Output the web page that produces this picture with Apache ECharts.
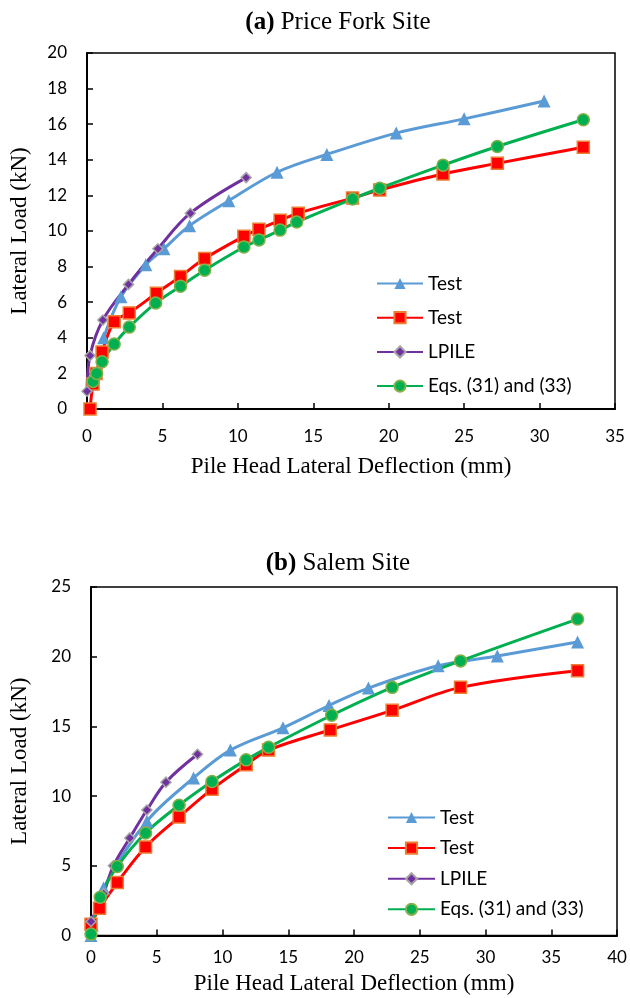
<!DOCTYPE html>
<html><head><meta charset="utf-8">
<script src="https://cdn.jsdelivr.net/npm/echarts@6/dist/echarts.min.js"></script>
<style>html,body{margin:0;padding:0;background:#fff}#c{width:630px;height:998px}</style>
</head><body><div id="c"></div>
<script>
// ---- (a) Price Fork Site ----
const aTest1X = [1.1, 2.25, 3.9, 5.1, 6.8, 9.4, 12.6, 15.9, 20.5, 25.0, 30.3];
const aTest1Y = [4.0, 6.3, 8.1, 9.0, 10.3, 11.7, 13.3, 14.3, 15.5, 16.3, 17.3];
const aTest2X = [0.2, 0.4, 0.6, 1.0, 1.8, 2.8, 4.6, 6.2, 7.8, 10.4, 11.4, 12.8, 14.0, 17.6, 19.4, 23.6, 27.2, 32.9];
const aTest2Y = [0, 1.4, 2.0, 3.2, 4.9, 5.4, 6.5, 7.45, 8.45, 9.7, 10.1, 10.6, 11.0, 11.85, 12.3, 13.2, 13.8, 14.7];
const aLpileX = [0, 0.2, 1.05, 2.75, 4.7, 6.85, 10.55];
const aLpileY = [1, 3, 5, 7, 9, 11, 13];
const aEqsX = [0.4, 0.64, 1.0, 1.8, 2.8, 4.55, 6.2, 7.8, 10.4, 11.4, 12.8, 13.9, 17.6, 19.4, 23.6, 27.2, 32.9];
const aEqsY = [1.55, 2.0, 2.66, 3.65, 4.6, 5.95, 6.9, 7.8, 9.1, 9.5, 10.05, 10.5, 11.8, 12.4, 13.7, 14.75, 16.25];
// ---- (b) Salem Site ----
const bTest1X = [0, 0.1, 0.95, 4.25, 7.8, 10.6, 14.6, 18.1, 21.1, 26.4, 30.9, 37.0];
const bTest1Y = [0, 0.75, 3.4, 8.2, 11.3, 13.3, 14.9, 16.5, 17.75, 19.35, 20.05, 21.05];
const bTest2X = [0, 0.65, 2.0, 4.15, 6.7, 9.2, 11.8, 13.5, 18.2, 22.9, 28.1, 37.0];
const bTest2Y = [0.8, 1.95, 3.8, 6.35, 8.5, 10.5, 12.25, 13.3, 14.75, 16.15, 17.8, 19.0];
const bLpileX = [0, 0.95, 1.7, 2.95, 4.25, 5.7, 8.1];
const bLpileY = [1, 3, 5, 7, 9, 11, 13];
const bEqsX = [0, 0.7, 2.0, 4.15, 6.7, 9.2, 11.8, 13.5, 18.3, 22.9, 28.1, 37.0];
const bEqsY = [0.1, 2.75, 4.95, 7.35, 9.35, 11.05, 12.6, 13.5, 15.8, 17.8, 19.7, 22.7];

const titleA = 'Price Fork Site';
const titleB = 'Salem Site';
const xName = 'Pile Head Lateral Deflection (mm)';
const yName = 'Lateral Load (kN)';
const legendNames = ['s1', 's2', 's3', 's4'];
const legendLabels = {s1: 'Test', s2: 'Test', s3: 'LPILE', s4: 'Eqs. (31) and (33)'};

const zip = (xs, ys) => xs.map((x, i) => [x, ys[i]]);
const serif = 'Liberation Serif';
const sans = 'Lato';

const styles = {
  s1: {color: '#5B9BD5', symbol: 'triangle', size: 13, border: '#5B9BD5', bw: 0},
  s2: {color: '#FF0000', symbol: 'rect', size: 12, border: '#ED7D31', bw: 1.5},
  s3: {color: '#7030A0', symbol: 'diamond', size: 10, border: '#A5A5A5', bw: 1.5},
  s4: {color: '#00B050', symbol: 'circle', size: 12, border: '#84B04A', bw: 1.5}
};
function mk(name, data, idx) {
  const s = styles[name];
  return {
    name: name, type: 'line', data: data, xAxisIndex: idx, yAxisIndex: idx,
    smooth: 0.35, clip: false, symbol: s.symbol, symbolSize: s.size,
    lineStyle: {color: s.color, width: 3},
    itemStyle: {color: s.color, borderColor: s.border, borderWidth: s.bw},
    emphasis: {disabled: true}, animation: false
  };
}
function xAx(idx, max, gap, margin) {
  return {
    type: 'value', gridIndex: idx, min: 0, max: max, interval: 5,
    name: xName, nameLocation: 'middle', nameGap: gap,
    nameTextStyle: {fontFamily: serif, fontSize: 23, color: '#000'},
    axisLine: {show: true, onZero: false, lineStyle: {color: '#000', width: 2}},
    axisTick: {show: true, inside: true, length: 6, lineStyle: {color: '#000', width: 1.5}},
    axisLabel: {fontFamily: sans, fontSize: 17, color: '#000', margin: margin},
    splitLine: {show: false}
  };
}
function yAx(idx, max, interval, gap) {
  return {
    type: 'value', gridIndex: idx, min: 0, max: max, interval: interval,
    name: yName, nameLocation: 'middle', nameGap: gap,
    nameTextStyle: {fontFamily: serif, fontSize: 23, color: '#000'},
    axisLine: {show: true, onZero: false, lineStyle: {color: '#000', width: 2}},
    axisTick: {show: true, inside: true, length: 6, lineStyle: {color: '#000', width: 1.5}},
    axisLabel: {fontFamily: sans, fontSize: 17, color: '#000', margin: 20},
    splitLine: {show: false}
  };
}
function legend(left, top, gap, w) {
  return {
    data: legendNames, orient: 'vertical', left: left, top: top,
    itemWidth: w, itemHeight: 14, itemGap: gap,
    formatter: n => legendLabels[n],
    textStyle: {fontFamily: sans, fontSize: 19, color: '#000'},
    selectedMode: false
  };
}

const chart = echarts.init(document.getElementById('c'), null, {renderer: 'canvas'});
chart.setOption({
  animation: false,
  backgroundColor: '#fff',
  title: [
    {text: '{b|(a)} ' + titleA, left: 333, top: 5, textAlign: 'center',
     textStyle: {fontFamily: serif, fontSize: 25, fontWeight: 'normal', color: '#000',
       rich: {b: {fontFamily: serif, fontSize: 25, fontWeight: 'bold', color: '#000'}}}},
    {text: '{b|(b)} ' + titleB, left: 333, top: 546, textAlign: 'center',
     textStyle: {fontFamily: serif, fontSize: 25, fontWeight: 'normal', color: '#000',
       rich: {b: {fontFamily: serif, fontSize: 25, fontWeight: 'bold', color: '#000'}}}}
  ],
  grid: [
    {left: 80, top: 53, width: 535, height: 356, show: true, borderColor: '#000', borderWidth: 1.5, containLabel: false},
    {left: 87, top: 587, width: 530, height: 348.5, show: true, borderColor: '#000', borderWidth: 1.5, containLabel: false}
  ],
  xAxis: [xAx(0, 35, 46, 19), xAx(1, 40, 37, 14)],
  yAxis: [yAx(0, 20, 2, 56), yAx(1, 25, 5, 60)],
  legend: [legend(371, 269, 15.2, 46), legend(382, 803, 11.6, 47)],
  series: [
    mk('s1', zip(aTest1X, aTest1Y), 0),
    mk('s2', zip(aTest2X, aTest2Y), 0),
    mk('s3', zip(aLpileX, aLpileY), 0),
    mk('s4', zip(aEqsX, aEqsY), 0),
    mk('s1', zip(bTest1X, bTest1Y), 1),
    mk('s2', zip(bTest2X, bTest2Y), 1),
    mk('s3', zip(bLpileX, bLpileY), 1),
    mk('s4', zip(bEqsX, bEqsY), 1)
  ]
});
</script>
</body></html>
